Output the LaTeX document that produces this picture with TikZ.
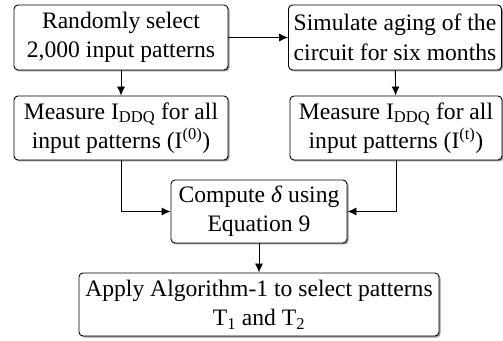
\documentclass[tikz,border=0pt]{standalone}
\usepackage{fontspec}
\setmainfont{Liberation Serif}
\usetikzlibrary{positioning,shadows,arrows.meta}

\begin{document}
\begin{tikzpicture}[x=1pt,y=1pt,
		block/.style={draw, line width=0.9pt, rounded corners=4pt, fill=white, align=center, inner sep=0pt,
			font=\fontsize{23.6}{29.5}\selectfont,
			drop shadow={shadow xshift=1.5pt, shadow yshift=-1.5pt, fill=black!50, opacity=0.8}},
		arr/.style={-{Latex[length=9pt,width=8pt]}, line width=0.9pt}]
				\useasboundingbox (0,0) rectangle (503,340);
				\node[block, minimum width=214pt, minimum height=65pt] (select) at (121,302.5) {Randomly select\\2,000 input patterns};
				\node[block, minimum width=213pt, minimum height=65pt] (aging) at (395,302.5) {Simulate aging of the\\circuit for six months};
				\node[block, minimum width=214pt, minimum height=64pt] (meas0) at (121,212) {Measure I\textsubscript{DDQ} for all\\input patterns (I\textsuperscript{(0)})};
				\node[block, minimum width=212pt, minimum height=64pt] (meast) at (396,212) {Measure I\textsubscript{DDQ} for all\\input patterns (I\textsuperscript{(t)})};
				\node[block, minimum width=176pt, minimum height=63pt] (delta) at (259,128.5) {Compute \textit{δ} using\\Equation 9};
				\node[block, minimum width=360pt, minimum height=63pt] (apply) at (259,35.5) {Apply Algorithm-1 to select patterns\\T\textsubscript{1} and T\textsubscript{2}};
				\draw[arr] (select) -- (aging);
				\draw[arr] (select) -- (meas0);
				\draw[arr] (aging) -- (meast);
				\draw[arr] (meas0.south) |- (delta.west);
				\draw[arr] (meast.south) |- (delta.east);
				\draw[arr] (delta) -- (apply);
\end{tikzpicture}
\end{document}
